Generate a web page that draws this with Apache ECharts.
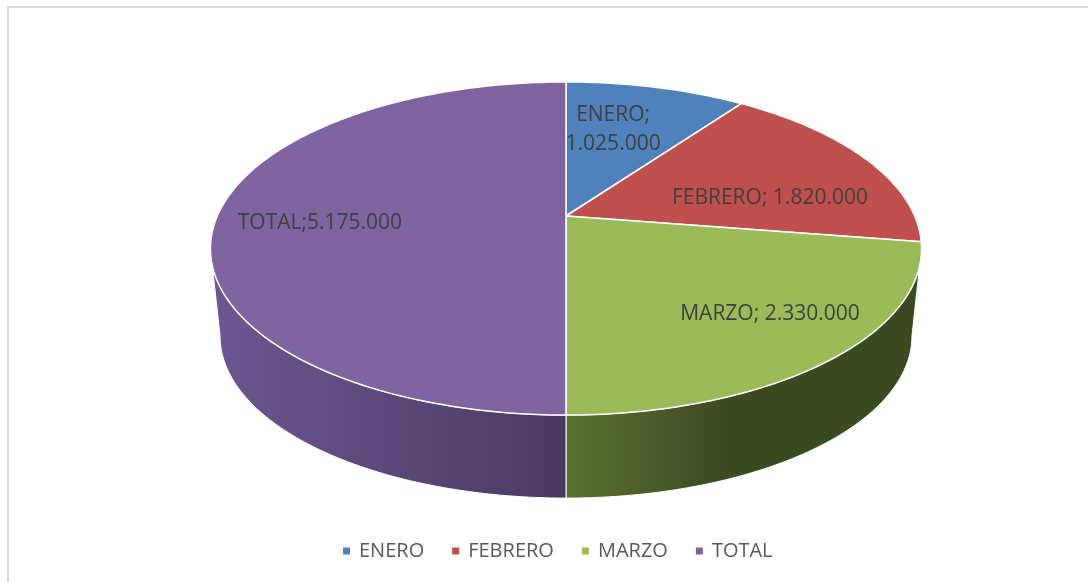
<!DOCTYPE html>
<html>
<head>
<meta charset="utf-8">
<script src="https://cdn.jsdelivr.net/npm/echarts@6/dist/echarts.min.js"></script>
<style>
  html, body { margin: 0; padding: 0; background: #fff; }
  #main { width: 1088px; height: 582px; }
</style>
</head>
<body>
<div id="main"></div>
<script>
// datos del grafico
const categorias = ['ENERO', 'FEBRERO', 'MARZO', 'TOTAL'];
const valores = [1025000, 1820000, 2330000, 5175000];

// estilos
const colores = ['#4f81bd', '#c0504d', '#9bbb59', '#8064a2'];
const coloresLado = [['#3d6694', '#2c4b70'], ['#974040', '#6f2d2b'], ['#5b7032', '#3c4a21'], ['#6c5792', '#4a3a61']];
const desplazLabel = [[-19, 8], [-10, 23], [27, 3], [-2, 7]];

// proyeccion en perspectiva del disco
const CX = 566, CY = 216, A = 348.7, B = 160.2, K = 0.1952;
const S = 0.973, D = 88.4;

function proy(t, f) {
  const u = f * Math.sin(t), v = f * Math.cos(t);
  const w = 1 + K * v;
  return [CX + A * u / w, CY - B * v / w];
}
function proyAbajo(t) {
  const p = proy(t, 1);
  return [CX + S * (p[0] - CX), CY + S * (p[1] - CY) + D];
}

const total = valores.reduce((s, v) => s + v, 0);
const acum = [];
let suma = 0;
valores.forEach(v => { acum.push(suma); suma += v; });

function formato(n) {
  return String(n).replace(/\B(?=(\d{3})+(?!\d))/g, '.');
}

const tL = Math.acos(-K);           // extremo derecho
const tR = 2 * Math.PI - Math.acos(-K); // extremo izquierdo

function arco(a, b, fn) {
  const pts = [];
  const n = Math.max(2, Math.ceil((b - a) / (Math.PI / 180)));
  for (let j = 0; j <= n; j++) pts.push(fn(a + (b - a) * j / n));
  return pts;
}

function dibujar(i) {
  return function (params, api) {
    const a = acum[i] / total * 2 * Math.PI;
    const b = a + api.value(0) / total * 2 * Math.PI;
    const hijos = [];

    // pared frontal
    const wa = Math.max(a, tL), wb = Math.min(b, tR);
    if (wb > wa) {
      const arriba = arco(wa, wb, t => proy(t, 1));
      const abajo = arco(wa, wb, proyAbajo).reverse();
      hijos.push({
        type: 'polygon',
        shape: { points: arriba.concat(abajo) },
        style: {
          fill: new echarts.graphic.LinearGradient(0, 0, 1, 0, [
            { offset: 0, color: coloresLado[i][0] },
            { offset: i === 2 ? 0.45 : 1, color: coloresLado[i][1] },
            { offset: 1, color: coloresLado[i][1] }
          ]),
          stroke: '#ffffff',
          lineWidth: 1
        }
      });
    }

    // cara superior
    const cara = [[CX, CY]].concat(arco(a, b, t => proy(t, 1)));
    hijos.push({
      type: 'polygon',
      shape: { points: cara },
      style: { fill: colores[i], stroke: '#ffffff', lineWidth: 1.5 }
    });

    // etiqueta
    const m = (a + b) / 2;
    const p = proy(m, 0.7);
    const sep = categorias[i] === 'TOTAL' ? ';' : (i === 0 ? ';\n' : '; ');
    hijos.push({
      type: 'text',
      style: {
        text: categorias[i] + sep + formato(api.value(0)),
        x: p[0] + desplazLabel[i][0],
        y: p[1] + desplazLabel[i][1],
        fill: '#404040',
        fontSize: 21,
        fontFamily: 'Open Sans',
        lineHeight: 29,
        align: 'center',
        verticalAlign: 'middle'
      },
      z2: 10
    });

    return { type: 'group', children: hijos };
  };
}

var chartDom = document.getElementById('main');
var myChart = echarts.init(chartDom);
var option;

option = {
  backgroundColor: '#ffffff',
  animation: false,
  graphic: [{
    type: 'rect',
    shape: { x: 8, y: 7, width: 1100, height: 600 },
    style: { fill: 'none', stroke: '#d9d9d9', lineWidth: 2 },
    silent: true
  }],
  legend: {
    left: 338,
    top: 536,
    icon: 'rect',
    itemWidth: 7,
    itemHeight: 7,
    itemGap: 28,
    data: categorias,
    textStyle: { fontSize: 20, color: '#595959', fontFamily: 'Open Sans', padding: [0, 0, 0, 4] }
  },
  series: categorias.map((c, i) => ({
    type: 'custom',
    name: c,
    coordinateSystem: 'none',
    color: colores[i],
    renderItem: dibujar(i),
    data: [[valores[i]]]
  }))
};
option && myChart.setOption(option);
</script>
</body>
</html>
